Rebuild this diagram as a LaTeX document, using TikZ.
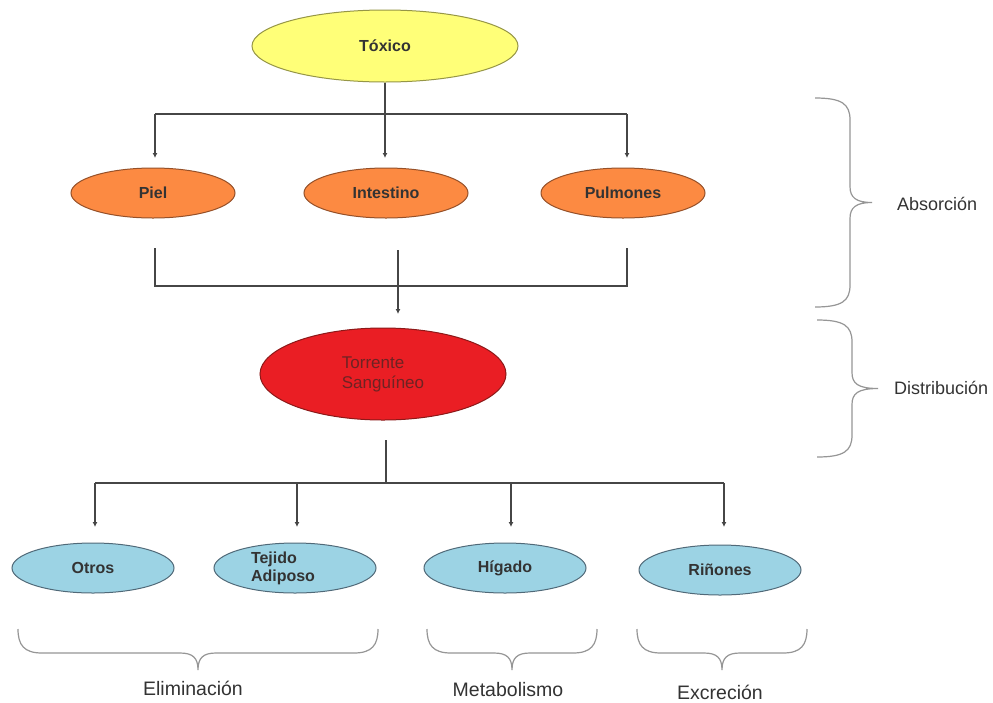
\documentclass[tikz,border=0pt]{standalone}
\usepackage{fontspec}
\setmainfont{Liberation Sans}
\usetikzlibrary{shapes.geometric,arrows.meta}
\definecolor{cyel}{RGB}{255,255,120}
\definecolor{cyelb}{RGB}{150,150,70}
\definecolor{cora}{RGB}{252,138,66}
\definecolor{corab}{RGB}{150,80,40}
\definecolor{cred}{RGB}{234,30,36}
\definecolor{credb}{RGB}{140,25,25}
\definecolor{credt}{RGB}{110,35,35}
\definecolor{cblu}{RGB}{156,211,228}
\definecolor{cblub}{RGB}{80,105,120}
\definecolor{cline}{RGB}{70,70,70}
\definecolor{cbr}{RGB}{150,150,150}
\newcommand{\myrbrace}[5]{% x0, y0, y1, xs, xt ; tip at mid
  \draw[bracestyle] (#1,#2) .. controls ({#4-8},#2) and (#4,{#2+6}) .. (#4,{#2+22})
   -- (#4,{(#2+#3)/2-16}) .. controls (#4,{(#2+#3)/2-5}) and ({#4+6},{(#2+#3)/2}) .. (#5,{(#2+#3)/2})
   .. controls ({#4+6},{(#2+#3)/2}) and (#4,{(#2+#3)/2+5}) .. (#4,{(#2+#3)/2+16})
   -- (#4,{#3-22}) .. controls (#4,{#3-6}) and ({#4-8},#3) .. (#1,#3);}
\newcommand{\mydbrace}[5]{% x0, x1, y0, ys, yt ; tip at mid
  \draw[bracestyle] (#1,#3) .. controls (#1,{#4-8}) and ({#1+6},#4) .. ({#1+24},#4)
   -- ({(#1+#2)/2-18},#4) .. controls ({(#1+#2)/2-5},#4) and ({(#1+#2)/2},{#4+5}) .. ({(#1+#2)/2},#5)
   .. controls ({(#1+#2)/2},{#4+5}) and ({(#1+#2)/2+5},#4) .. ({(#1+#2)/2+18},#4)
   -- ({#2-24},#4) .. controls ({#2-6},#4) and (#2,{#4-8}) .. (#2,#3);}
\begin{document}
\begin{tikzpicture}[x=1pt,y=-1pt,
  organ/.style={ellipse,draw,line width=1pt,inner sep=0pt,minimum width=164pt,minimum height=50pt,
     font=\fontsize{16}{18}\selectfont\bfseries,text=black!80,align=center},
  yel/.style={organ,fill=cyel,draw=cyelb,minimum width=266pt,minimum height=72pt},
  ora/.style={organ,fill=cora,draw=corab},
  redn/.style={organ,fill=cred,draw=credb,minimum width=246pt,minimum height=92pt,text=credt,
     font=\fontsize{17}{20}\selectfont,align=left},
  blu/.style={organ,fill=cblu,draw=cblub,minimum width=162pt},
  conn/.style={draw=cline,line width=1.1pt},
  arr/.style={conn,-{Latex[length=5pt,width=5pt]}},
  bracestyle/.style={draw=cbr,line width=1.2pt},
  lab/.style={font=\fontsize{19.5}{22}\selectfont,text=black!80,inner sep=0pt},
  rlab/.style={lab,font=\fontsize{18}{22}\selectfont,anchor=west}
]
\useasboundingbox (0,0) rectangle (993,702);
\fill[white] (0,0) rectangle (993,702);

\node[yel] (tox) at (385,46) {Tóxico};
\node[ora] (piel) at (153,193) {Piel};
\node[ora] (int) at (386,193) {Intestino};
\node[ora] (pul) at (623,193) {Pulmones};
\node[redn] (tor) at (383,374) {Torrente\\Sanguíneo};
\node[blu] (otr) at (93,568) {Otros};
\node[blu,align=left] (tej) at (295,568) {Tejido\\Adiposo\hspace*{24pt}};
\node[blu] (hig) at (505,568) {Hígado};
\node[blu] (rin) at (720,570) {Riñones};

% top distribution
\coordinate (t1) at (155,114);
\coordinate (t3) at (627,114);
\coordinate (a1) at (155,158);
\coordinate (a2) at (385,158);
\coordinate (a3) at (627,158);
\draw[conn] (t1) -- (t3);
\draw[arr] (tox.south) -- (a2);
\draw[arr] (t1) -- (a1);
\draw[arr] (t3) -- (a3);

% collection to blood
\coordinate (b1) at (155,248);
\coordinate (b3) at (627,248);
\coordinate (c1) at (155,286);
\coordinate (c3) at (627,286);
\coordinate (b2) at (398,250);
\coordinate (d2) at (398,314);
\draw[conn] (b1) -- (c1) -- (c3) -- (b3);
\draw[arr] (b2) -- (d2);

% blood to organs
\coordinate (e0) at (386,440);
\coordinate (e1) at (386,483);
\coordinate (h1) at (95,483);
\coordinate (h2) at (297,483);
\coordinate (h3) at (511,483);
\coordinate (h4) at (724,483);
\draw[conn] (e0) -- (e1);
\draw[conn] (h1) -- (h4);
\draw[arr] (h1) -- (95,527);
\draw[arr] (h2) -- (297,527);
\draw[arr] (h3) -- (511,527);
\draw[arr] (h4) -- (724,527);

% braces
\myrbrace{815}{98}{307}{850}{872}
\myrbrace{817}{320}{457}{852}{878}
\mydbrace{18}{378}{629}{653}{670}
\mydbrace{427}{597}{629}{653}{670}
\mydbrace{637}{807}{629}{653}{670}

\node[rlab] (abs) at (897,204) {Absorción};
\node[rlab] (dis) at (894,388) {Distribución};
\node[lab] (eli) at (193,688) {Eliminación};
\node[lab] (met) at (508,690) {Metabolismo};
\node[lab] (exc) at (720,692) {Excreción};
\end{tikzpicture}
\end{document}
